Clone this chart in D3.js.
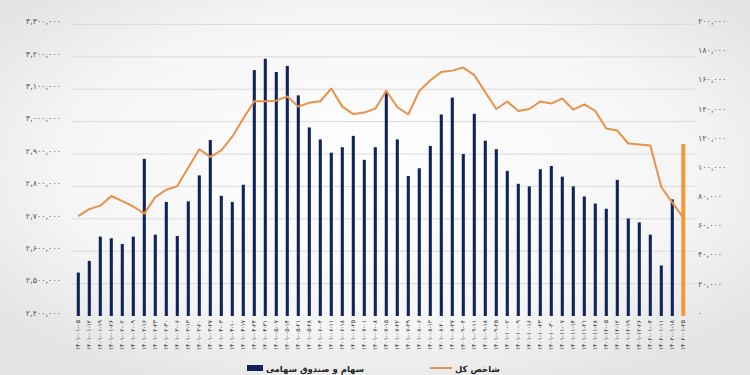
<!DOCTYPE html>
<html><head><meta charset="utf-8">
<script src="https://cdn.jsdelivr.net/npm/d3@7"></script>
<style>html,body{margin:0;padding:0;}svg{display:block;}</style>
</head><body>
<script>
const dates = [
"1401-01-05","1401-01-12","1401-01-19","1401-01-26",
"1401-02-02","1401-02-09","1401-02-16","1401-02-23","1401-02-30",
"1401-03-06","1401-03-13","1401-03-20","1401-03-27",
"1401-04-03","1401-04-10","1401-04-17","1401-04-24","1401-04-31",
"1401-05-07","1401-05-14","1401-05-21","1401-05-28",
"1401-06-04","1401-06-11","1401-06-18","1401-06-25",
"1401-07-01","1401-07-08","1401-07-15","1401-07-22","1401-07-29",
"1401-08-06","1401-08-13","1401-08-20","1401-08-27",
"1401-09-04","1401-09-11","1401-09-18","1401-09-25",
"1401-10-02","1401-10-09","1401-10-16","1401-10-23","1401-10-30",
"1401-11-07","1401-11-14","1401-11-21","1401-11-28",
"1401-12-05","1401-12-12","1401-12-19","1401-12-26",
"1402-01-04","1402-01-11","1402-01-18","1402-01-25"];
const stockFund = [2534000,2570000,2645000,2640000,2622000,2645000,2885000,2651000,2752000,2647000,
2754000,2834000,2943000,2771000,2752000,2805000,3159000,3194000,3153000,3172000,
3081000,2982000,2945000,2904000,2921000,2956000,2882000,2921000,3093000,2945000,
2832000,2856000,2925000,3022000,3074000,2900000,3024000,2941000,2915000,2848000,
2808000,2800000,2853000,2863000,2830000,2800000,2769000,2747000,2731000,2820000,
2701000,2689000,2651000,2556000,2760000,2931000];
const totalIndex = [68500,73300,75700,82300,78800,75100,70200,81500,86600,89100,
101900,114400,109100,113600,123000,135400,147300,147300,147700,150600,
143600,146300,147300,156000,143600,138500,139500,142200,154500,143200,
138300,154300,161700,167300,168300,170400,165200,153500,142000,147100,
140600,142000,147100,145700,149200,141500,145200,140600,128600,127200,
118300,117700,116900,88500,77800,67500];
const leftTicks = [2400000,2500000,2600000,2700000,2800000,2900000,3000000,3100000,3200000,3300000];
const rightTicks = [0,20000,40000,60000,80000,100000,120000,140000,160000,180000,200000];
const seriesNames = ["سهام و صندوق سهامی","شاخص کل"];

const W=750,H=375;
const fa = s => String(s).replace(/[0-9]/g, d => "۰۱۲۳۴۵۶۷۸۹"[+d]);
const fmt = d3.format(",");
const svg = d3.select("body").append("svg").attr("width",W).attr("height",H);
const defs = svg.append("defs");
const rg = defs.append("radialGradient").attr("id","bg").attr("cx","50%").attr("cy","45%").attr("r","65%");
rg.append("stop").attr("offset","0%").attr("stop-color","#ffffff");
rg.append("stop").attr("offset","65%").attr("stop-color","#f5f5f5");
rg.append("stop").attr("offset","100%").attr("stop-color","#e3e3e3");
svg.append("rect").attr("width",W).attr("height",H).attr("fill","url(#bg)");

const x = d3.scaleBand().domain(dates).range([72.8,688.8]).paddingInner(0.72).paddingOuter(0.36);
const yL = d3.scaleLinear().domain([2400000,3300000]).range([316,24.4]);
const yR = d3.scaleLinear().domain([0,200000]).range([316,24.4]);
const cx = d => x(d)+x.bandwidth()/2;

// gridlines
svg.append("g").selectAll("line").data(leftTicks.slice(1)).join("line")
  .attr("x1",72).attr("x2",695).attr("y1",d=>yL(d)).attr("y2",d=>yL(d))
  .attr("stroke","#dadada").attr("stroke-width",1);

// left axis
const axL = svg.append("g").attr("transform","translate(61,0)")
  .call(d3.axisLeft(yL).tickValues(leftTicks).tickSize(0).tickPadding(0).tickFormat(d=>fa(fmt(d))));
axL.select(".domain").remove();
axL.selectAll("text").attr("font-family","DejaVu Sans").attr("font-size",8).attr("fill","#555").attr("dy","-0.1em");

// right axis
const axR = svg.append("g").attr("transform","translate(698,0)")
  .call(d3.axisRight(yR).tickValues(rightTicks).tickSize(0).tickPadding(0).tickFormat(d=>fa(fmt(d))));
axR.select(".domain").remove();
axR.selectAll("text").attr("font-family","DejaVu Sans").attr("font-size",8).attr("fill","#555").attr("dy","-0.1em");

// bars
const last = dates.length-1;
svg.append("g").selectAll("rect").data(dates).join("rect")
  .attr("x",(d,i)=> i===last ? cx(d)-2 : x(d))
  .attr("width",(d,i)=> i===last ? 4 : x.bandwidth())
  .attr("y",(d,i)=>yL(stockFund[i]))
  .attr("height",(d,i)=>yL(2400000)-yL(stockFund[i]))
  .attr("fill",(d,i)=> i===last ? "#f0983a" : "#10245a");

// line
const line = d3.line().x((d,i)=>cx(dates[i])).y(d=>yR(d));
svg.append("path").datum(totalIndex).attr("d",line)
  .attr("fill","none").attr("stroke","#e8914a").attr("stroke-width",2).attr("stroke-linejoin","round");

// x labels
svg.append("g").selectAll("text").data(dates).join("text")
  .attr("transform",d=>`translate(${cx(d)+2},320) rotate(-90)`)
  .attr("text-anchor","end").attr("font-family","DejaVu Sans").attr("font-size",6).attr("fill","#333")
  .text(d=>fa(d));

// legend
const lg = svg.append("g").attr("font-family","DejaVu Sans").attr("font-size",8.5).attr("font-weight","bold").attr("fill","#222");
lg.append("rect").attr("x",247).attr("y",365).attr("width",16).attr("height",6).attr("fill","#10245a");
lg.append("text").attr("x",266).attr("y",372).attr("text-anchor","start").text(seriesNames[0]);
lg.append("line").attr("x1",430).attr("x2",452).attr("y1",368).attr("y2",368).attr("stroke","#e8914a").attr("stroke-width",2);
lg.append("text").attr("x",455).attr("y",372).attr("text-anchor","start").text(seriesNames[1]);
</script>
</body></html>
